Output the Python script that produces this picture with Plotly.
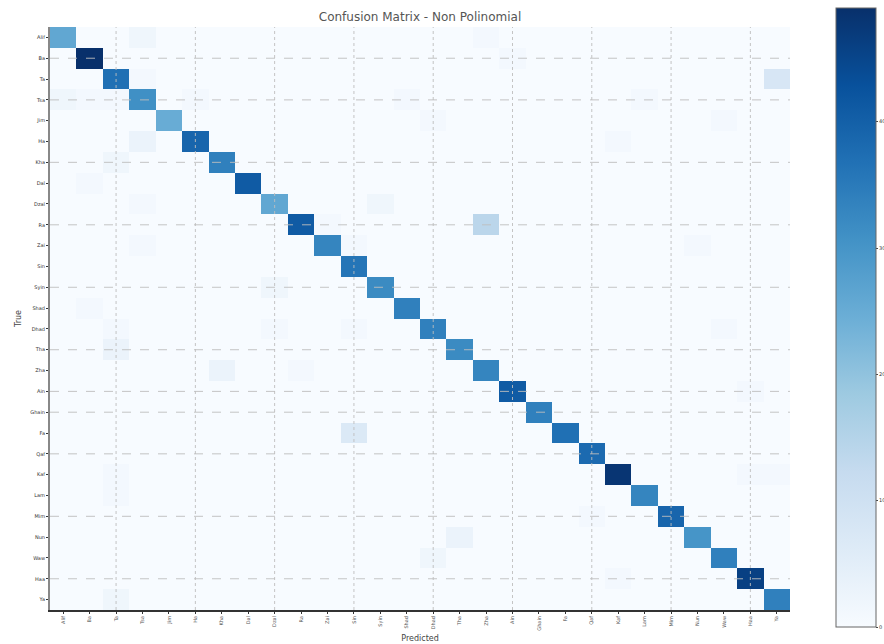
import plotly.graph_objects as go

# ---- data ----
class_labels = ["Alif", "Ba", "Ta", "Tsa", "Jim", "Ha", "Kha", "Dal", "Dzal", "Ra",
                "Zai", "Sin", "Syin", "Shad", "Dhad", "Tha", "Zha", "Ain", "Ghain", "Fa",
                "Qaf", "Kaf", "Lam", "Mim", "Nun", "Waw", "Haa", "Ya"]

diag_counts = [26, 49, 37, 31, 25, 39, 34, 41, 26, 41,
               33, 36, 32, 34, 34, 32, 33, 41, 34, 37,
               38, 48, 33, 39, 30, 34, 46, 34]

off_rows = [0, 0, 1, 2, 2, 3, 3, 3, 3, 3, 3, 4, 4, 5, 5, 6, 7, 8, 8, 9, 9, 10, 10, 10,
            12, 13, 14, 14, 14, 14, 15, 16, 16, 17, 19, 21, 21, 21, 22, 23, 24, 25, 26, 27]
off_cols = [3, 16, 17, 3, 27, 0, 1, 2, 5, 13, 22, 14, 25, 3, 21, 2, 1, 3, 12, 10, 16, 11, 3, 24,
            8, 1, 2, 8, 11, 25, 2, 6, 9, 26, 11, 2, 26, 27, 2, 20, 15, 14, 21, 2]
off_vals = [2, 1, 1, 1, 8, 2, 1, 1, 1, 1, 1, 1, 1, 3, 1, 2, 1, 1, 2, 1, 14, 1, 1, 1,
            2, 1, 1, 1, 1, 1, 3, 3, 1, 1, 7, 1, 1, 1, 1, 1, 3, 2, 1, 2]

cbar_ticks = [0, 10, 20, 30, 40]

# grid positions (as category indices) that remain visible in the reference
grid_cols = [2, 5, 8, 11, 14, 17, 20, 23, 26]
grid_rows = [1, 3, 6, 9, 12, 15, 17, 18, 20, 23, 26]

n = len(class_labels)
z = [[0] * n for _ in range(n)]
for i, v in enumerate(diag_counts):
    z[i][i] = v
for r, c, v in zip(off_rows, off_cols, off_vals):
    z[r][c] = v

W, H = 884, 644
L, R, T, B = 50, 94, 27, 34
plot_h = H - T - B

fig = go.Figure(go.Heatmap(
    z=z, x=class_labels, y=class_labels,
    colorscale="Blues", zmin=0, zmax=max(diag_counts),
    colorbar=dict(
        x=(836 - L) / (W - L - R), xanchor="left", xpad=0,
        thickness=40, thicknessmode="pixels",
        len=619, lenmode="pixels",
        y=(H - B - 317.5) / plot_h, yanchor="middle", ypad=0,
        outlinewidth=1, outlinecolor="#666",
        tickvals=cbar_ticks, ticks="outside", ticklen=2,
        tickfont=dict(size=5, color="#333"),
    ),
    hoverongaps=False,
))

shapes = []
for c in grid_cols:
    shapes.append(dict(type="line", xref="x", yref="paper",
                       x0=class_labels[c], x1=class_labels[c], y0=0, y1=1,
                       line=dict(color="rgba(190,190,190,0.9)", width=1, dash="dot"),
                       layer="above"))
for r in grid_rows:
    shapes.append(dict(type="line", xref="paper", yref="y",
                       x0=0, x1=1, y0=class_labels[r], y1=class_labels[r],
                       line=dict(color="rgba(190,190,190,0.9)", width=1, dash="dash"),
                       layer="above"))

fig.update_layout(
    width=W, height=H,
    margin=dict(l=L, r=R, t=T, b=B, autoexpand=False),
    paper_bgcolor="white", plot_bgcolor="white",
    font=dict(family="DejaVu Sans", color="#222"),
    title=dict(text="Confusion Matrix - Non Polinomial", x=(L + (W - L - R) / 2) / W,
               xanchor="center", y=1 - 17 / H, yanchor="middle",
               font=dict(size=12, color="#555")),
    shapes=shapes,
    xaxis=dict(
        title=dict(text="Predicted", font=dict(size=8, color="#444"), standoff=6),
        tickangle=-90, tickfont=dict(size=5, color="#555"),
        showgrid=False, zeroline=False,
        showline=True, linecolor="#333", linewidth=2,
        ticks="outside", ticklen=2, tickcolor="#333",
    ),
    yaxis=dict(
        title=dict(text="True", font=dict(size=8, color="#444"), standoff=8),
        autorange="reversed", tickfont=dict(size=5, color="#333"),
        showgrid=False, zeroline=False,
        showline=True, linecolor="#888", linewidth=2,
        ticks="outside", ticklen=2, tickcolor="#333",
    ),
)

fig.write_html("out.html")
